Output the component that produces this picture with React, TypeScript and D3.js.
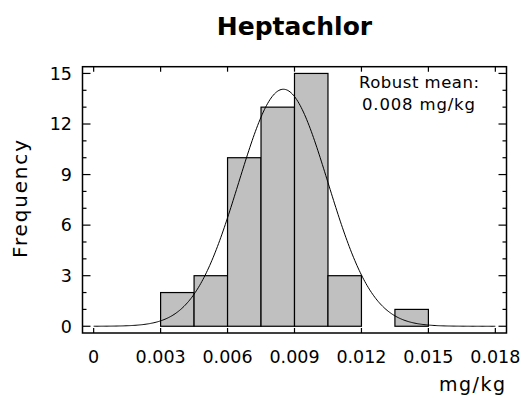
import React from "react";
import * as d3 from "d3";

// ---- data ----
const binEdges = [0.003, 0.0045, 0.006, 0.0075, 0.009, 0.0105, 0.012, 0.0135, 0.015];
const binCounts = [2, 3, 10, 13, 15, 3, 0, 1];
const xTicks = [0, 0.003, 0.006, 0.009, 0.012, 0.015, 0.018];
const xTickLabels = ["0", "0.003", "0.006", "0.009", "0.012", "0.015", "0.018"];
const yTicks = [0, 3, 6, 9, 12, 15];
const yMinorTicks = [1, 2, 4, 5, 7, 8, 10, 11, 13, 14];
// fitted normal curve parameters
const fitMean = 0.0085;
const fitSd = 0.002;
const title = "Heptachlor";
const noteLines = ["Robust mean:", "0.008 mg/kg"];

const W = 522;
const H = 401;
const FONT = "'DejaVu Sans', sans-serif";

export default function App() {
  const left = 82.5, right = 506.5, top = 66.7, bottom = 333;
  const x = d3.scaleLinear().domain([-0.0005, 0.0185]).range([left, right]);
  const y = d3.scaleLinear().domain([-0.4, 15.4]).range([bottom, top]);

  const total = d3.sum(binCounts);
  const bw = binEdges[1] - binEdges[0];
  const curvePts: [number, number][] = d3.range(0, 0.018 + 1e-9, 0.00005).map((v) => [
    v,
    (total * bw) / (fitSd * Math.sqrt(2 * Math.PI)) * Math.exp(-0.5 * ((v - fitMean) / fitSd) ** 2),
  ]);
  const line = d3
    .line<[number, number]>()
    .x((d) => x(d[0]))
    .y((d) => y(d[1]))
    .curve(d3.curveLinear);

  return (
    <svg width={W} height={H} style={{ position: "absolute", left: 0, top: 0 }} fontFamily={FONT}>
      <rect x={0} y={0} width={W} height={H} fill="#fff" />
      <text x={(left + right) / 2} y={34.5} textAnchor="middle" fontWeight="bold" fontSize={25} fill="#000">
        {title}
      </text>
      {/* bars */}
      {binCounts.map((c, i) =>
        c > 0 ? (
          <rect
            key={i}
            x={x(binEdges[i])}
            y={y(c)}
            width={x(binEdges[i + 1]) - x(binEdges[i])}
            height={y(0) - y(c)}
            fill="#c0c0c0"
            stroke="#000"
            strokeWidth={1.2}
          />
        ) : null
      )}
      {/* fitted curve */}
      <path d={line(curvePts) || ""} fill="none" stroke="#000" strokeWidth={1} />
      {/* frame */}
      <rect x={left} y={top} width={right - left} height={bottom - top} fill="none" stroke="#000" strokeWidth={1.5} />
      {/* x ticks */}
      {xTicks.map((t, i) => (
        <g key={"x" + i}>
          <line x1={x(t)} x2={x(t)} y1={bottom} y2={bottom - 5} stroke="#000" strokeWidth={1.2} />
          <line x1={x(t)} x2={x(t)} y1={top} y2={top + 5} stroke="#000" strokeWidth={1.2} />
          <text x={x(t)} y={363} textAnchor="middle" fontSize={17.5} fill="#000">
            {xTickLabels[i]}
          </text>
        </g>
      ))}
      {/* y ticks */}
      {yTicks.map((t) => (
        <g key={"y" + t}>
          <line x1={left} x2={left + 8} y1={y(t)} y2={y(t)} stroke="#000" strokeWidth={1.2} />
          <line x1={right} x2={right - 8} y1={y(t)} y2={y(t)} stroke="#000" strokeWidth={1.2} />
          <text x={72} y={y(t)} dy="0.36em" textAnchor="end" fontSize={17.5} fill="#000">
            {t}
          </text>
        </g>
      ))}
      {yMinorTicks.map((t) => (
        <g key={"ym" + t}>
          <line x1={left} x2={left + 4} y1={y(t)} y2={y(t)} stroke="#000" strokeWidth={1.2} />
          <line x1={right} x2={right - 4} y1={y(t)} y2={y(t)} stroke="#000" strokeWidth={1.2} />
        </g>
      ))}
      {/* axis titles */}
      <text
        transform="translate(27,199) rotate(-90)"
        textAnchor="middle"
        fontSize={20}
        textLength={118}
        lengthAdjust="spacing"
        fill="#000"
      >
        Frequency
      </text>
      <text x={505} y={391} textAnchor="end" fontSize={19} textLength={66} lengthAdjust="spacing" fill="#000">
        mg/kg
      </text>
      {/* annotation */}
      <text x={419} y={87.7} textAnchor="middle" fontSize={16.5} textLength={120} lengthAdjust="spacing" fill="#000">
        {noteLines[0]}
      </text>
      <text x={418.5} y={110} textAnchor="middle" fontSize={16.5} textLength={113} lengthAdjust="spacing" fill="#000">
        {noteLines[1]}
      </text>
    </svg>
  );
}
